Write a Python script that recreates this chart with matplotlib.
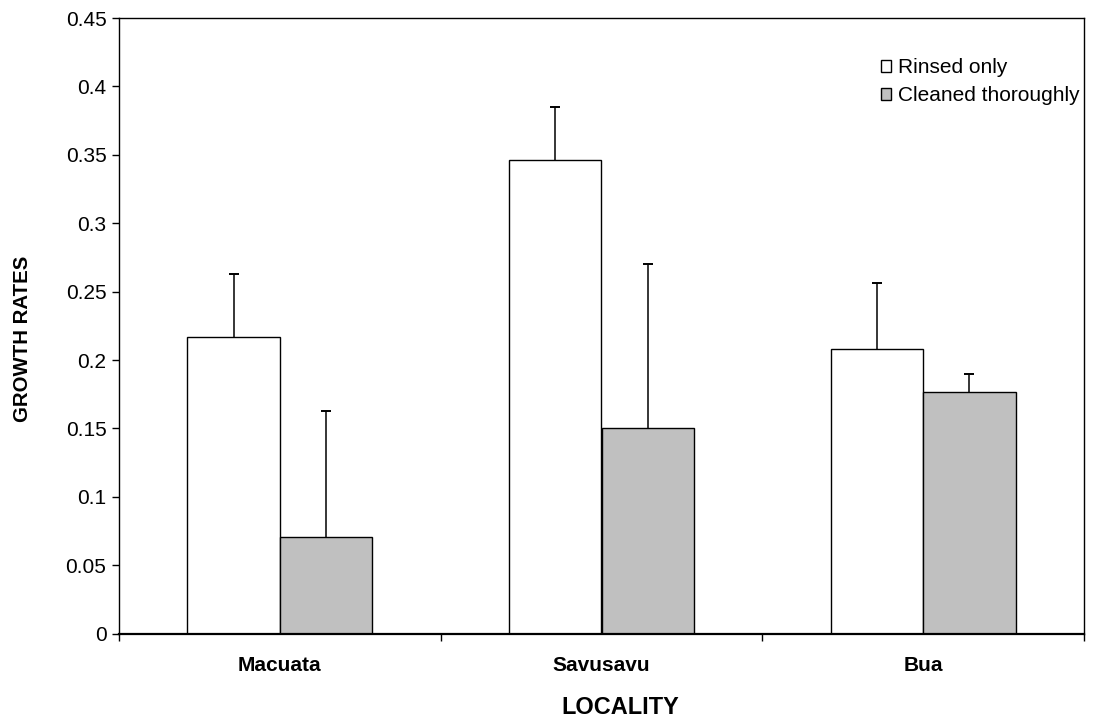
import numpy as np
import matplotlib
matplotlib.use("Agg")
import matplotlib.pyplot as plt

plt.rcParams['font.family'] = ['Liberation Sans', 'DejaVu Sans']

localities = ["Macuata", "Savusavu", "Bua"]
series_names = ["Rinsed only", "Cleaned thoroughly"]
rinsed = [0.217, 0.346, 0.208]
rinsed_err = [0.046, 0.039, 0.048]
cleaned = [0.071, 0.150, 0.177]
cleaned_err = [0.092, 0.120, 0.013]
y_ticks = [0, 0.05, 0.1, 0.15, 0.2, 0.25, 0.3, 0.35, 0.4, 0.45]
y_tick_labels = ["0", "0.05", "0.1", "0.15", "0.2", "0.25", "0.3", "0.35", "0.4", "0.45"]

W, H = 1093, 725
fig = plt.figure(figsize=(W / 100, H / 100), dpi=100)
ax = fig.add_axes([119 / W, 1 - 633.7 / H, (1084 - 119) / W, (633.7 - 18) / H])

x = np.arange(len(localities))
width = 0.2875

ax.bar(x - width / 2, rinsed, width, color='white', edgecolor='black', linewidth=1.0,
       label=series_names[0], zorder=2)
ax.bar(x + width / 2, cleaned, width, color='#c0c0c0', edgecolor='black', linewidth=1.0,
       label=series_names[1], zorder=2)

# upper error bars only (no lower cap)
for xs, vals, errs in [(x - width / 2, rinsed, rinsed_err), (x + width / 2, cleaned, cleaned_err)]:
    tops = np.array(vals) + np.array(errs)
    ax.vlines(xs, vals, tops, colors='black', linewidth=1.1, zorder=3)
    ax.plot(xs, tops, linestyle='none', marker='_', markersize=7.5,
            markeredgewidth=1.4, color='black', zorder=3)

ax.set_xlim(-0.5, len(localities) - 0.5)
ax.set_ylim(0, 0.45)
ax.set_yticks(y_ticks)
ax.set_yticklabels(y_tick_labels, fontsize=15)

# category labels centred, ticks at category boundaries
ax.set_xticks(x)
ax.set_xticklabels(localities, fontsize=15, fontweight='bold')
ax.tick_params(axis='x', which='major', length=0, pad=16)
ax.set_xticks(np.arange(len(localities) + 1) - 0.5, minor=True)
ax.tick_params(axis='x', which='minor', length=5, width=1, direction='out')
ax.tick_params(axis='y', length=5, width=1, direction='out', pad=4)

for s in ax.spines.values():
    s.set_linewidth(1.0)
ax.spines['bottom'].set_linewidth(1.6)

fig.text(23 / W, 1 - 339 / H, "GROWTH RATES", rotation=90, ha='center', va='center',
         fontsize=14.7, fontweight='bold')
fig.text(620 / W, 1 - 708 / H, "LOCALITY", ha='center', va='center',
         fontsize=16.9, fontweight='bold')

ax.legend(loc='upper left', bbox_to_anchor=(881 / W, 1 - 58 / H), bbox_transform=fig.transFigure,
          frameon=False, fontsize=15, handlelength=0.5, handleheight=0.5,
          handletextpad=0.3, labelspacing=0.45, borderpad=0, borderaxespad=0)

fig.savefig("out.png", dpi=100)
